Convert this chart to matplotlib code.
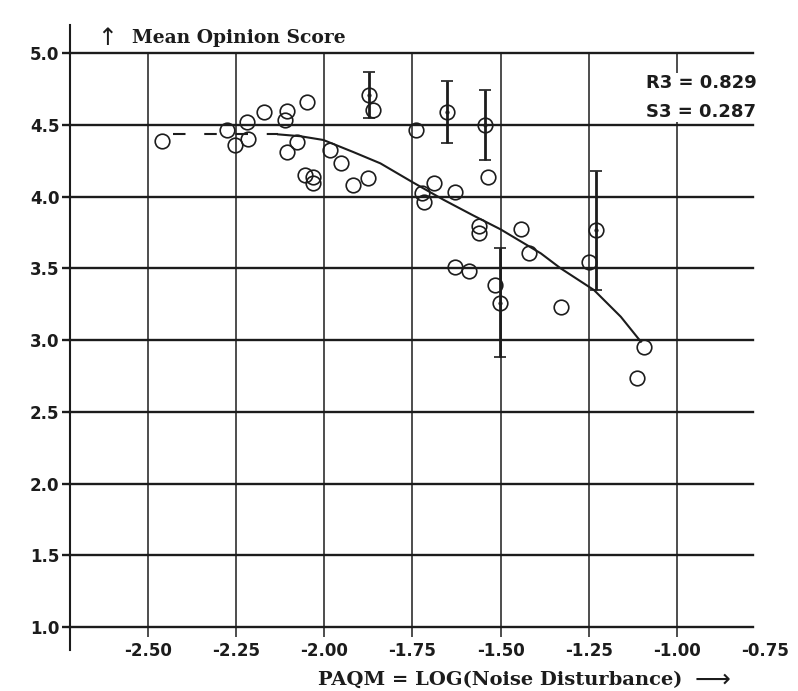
import matplotlib
matplotlib.use('Agg')
import matplotlib.pyplot as plt

# opinion scores per condition, open circles
paqm = [-2.460, -2.276, -2.253, -2.219, -2.216, -2.170, -2.105, -2.111, -2.048, -2.077,
		-2.105, -2.054, -2.031, -2.031, -1.983, -1.952, -1.920, -1.875, -1.861, -1.741,
		-1.537, -1.690, -1.722, -1.716, -1.628, -1.560, -1.560, -1.443, -1.420, -1.628,
		-1.591, -1.517, -1.330, -1.250, -1.094, -1.114]
mos = [4.387, 4.463, 4.359, 4.519, 4.401, 4.589, 4.596, 4.533, 4.659, 4.380,
	   4.310, 4.150, 4.136, 4.094, 4.324, 4.233, 4.080, 4.129, 4.603, 4.463,
	   4.136, 4.094, 4.024, 3.962, 4.031, 3.794, 3.746, 3.774, 3.606, 3.509,
	   3.481, 3.383, 3.230, 3.544, 2.951, 2.735]

# conditions shown with their spread
paqm_err = [-1.872, -1.651, -1.543, -1.503, -1.230]
mos_err = [4.707, 4.590, 4.495, 3.261, 3.764]
spread = [0.163, 0.215, 0.244, 0.382, 0.416]

# fitted mapping, flat extrapolation below the data range
fit_flat_x = [-2.43, -2.131]
fit_flat_y = [4.433, 4.433]
fit_x = [-2.131, -2.068, -2.003, -1.918, -1.841, -1.750, -1.661, -1.580, -1.500,
		 -1.386, -1.330, -1.235, -1.159, -1.102]
fit_y = [4.433, 4.420, 4.394, 4.310, 4.231, 4.100, 3.976, 3.871, 3.771,
		 3.604, 3.500, 3.348, 3.162, 2.988]

xticks = [-2.50, -2.25, -2.00, -1.75, -1.50, -1.25, -1.00]
yticks = [1.0, 1.5, 2.0, 2.5, 3.0, 3.5, 4.0, 4.5, 5.0]
stats = ['R3 = 0.829', 'S3 = 0.287']

ink = '#1c1c1c'
tickfont = dict(family='DejaVu Sans', weight='bold', size=12)

fig = plt.figure(figsize=(7.98, 6.91), dpi=100)
ax = fig.add_axes([0.0877, 0.0926, 0.8559, 0.8307])
ax.set_xlim(-2.7216, -0.784)
ax.set_ylim(1.0, 5.0)
for s in ax.spines.values():
	s.set_visible(False)

# grid drawn by hand so the edge lines are not clipped
for y in yticks:
	ax.axhline(y, color=ink, lw=1.7, clip_on=False, zorder=1)
for x in xticks:
	ax.axvline(x, color=ink, lw=1.1, clip_on=False, zorder=1)
ax.plot([0, 0], [-0.04, 1.049], transform=ax.transAxes, color=ink, lw=1.5, clip_on=False)

ax.set_xticks(xticks)
ax.set_xticklabels(['%.2f' % v for v in xticks], fontdict=tickfont)
ax.set_yticks(yticks)
ax.set_yticklabels(['%.1f' % v for v in yticks], fontdict=tickfont)
ax.tick_params(axis='x', direction='out', length=7, width=1.1, color=ink, pad=4, labelcolor=ink)
ax.tick_params(axis='y', direction='out', length=6, width=1.7, color=ink, pad=1.5, labelcolor=ink)
ax.annotate('%.2f' % -0.75, xy=(-0.75, 0), xycoords=('data', 'axes fraction'),
			xytext=(0, -11), textcoords='offset points', ha='center', va='top',
			annotation_clip=False, color=ink, **tickfont)

ax.plot(fit_flat_x, fit_flat_y, color=ink, lw=1.5, dashes=(6, 9), zorder=2)
ax.plot(fit_x, fit_y, color=ink, lw=1.5, zorder=2)

ax.plot(paqm, mos, 'o', ms=10.5, mfc='none', mec=ink, mew=1.2, zorder=3)
ax.errorbar(paqm_err, mos_err, yerr=spread, fmt='o', ms=10.5, mfc='none', mec=ink, mew=1.2,
			ecolor=ink, elinewidth=2.0, capsize=4.5, capthick=2.0, zorder=3)
ax.plot(paqm_err, mos_err, '.', ms=4, color=ink, zorder=4)

ax.text(1.005, 0.9225, '\n'.join(stats), transform=ax.transAxes, ha='right', va='center',
		linespacing=1.75, color=ink, family='DejaVu Sans', weight='bold', size=13,
		bbox=dict(facecolor='white', edgecolor='none', pad=1), zorder=5)

ax.text(0.054, 1.026, '\u2191', transform=ax.transAxes, ha='center', va='center',
		size=17, color=ink, family='DejaVu Sans')
ax.text(0.0908, 1.026, 'Mean Opinion Score', transform=ax.transAxes, ha='left', va='center',
		size=13.5, color=ink, family='DejaVu Serif', weight='bold')

fig.text(500 / 798, 1 - 680 / 691, 'PAQM = LOG(Noise Disturbance)', ha='center', va='center',
		 size=14, color=ink, family='DejaVu Serif', weight='bold')
fig.text(713 / 798, 1 - 680 / 691, '\u27f6', ha='center', va='center',
		 size=18, color=ink, family='DejaVu Sans')

fig.savefig('out.png', dpi=100)
